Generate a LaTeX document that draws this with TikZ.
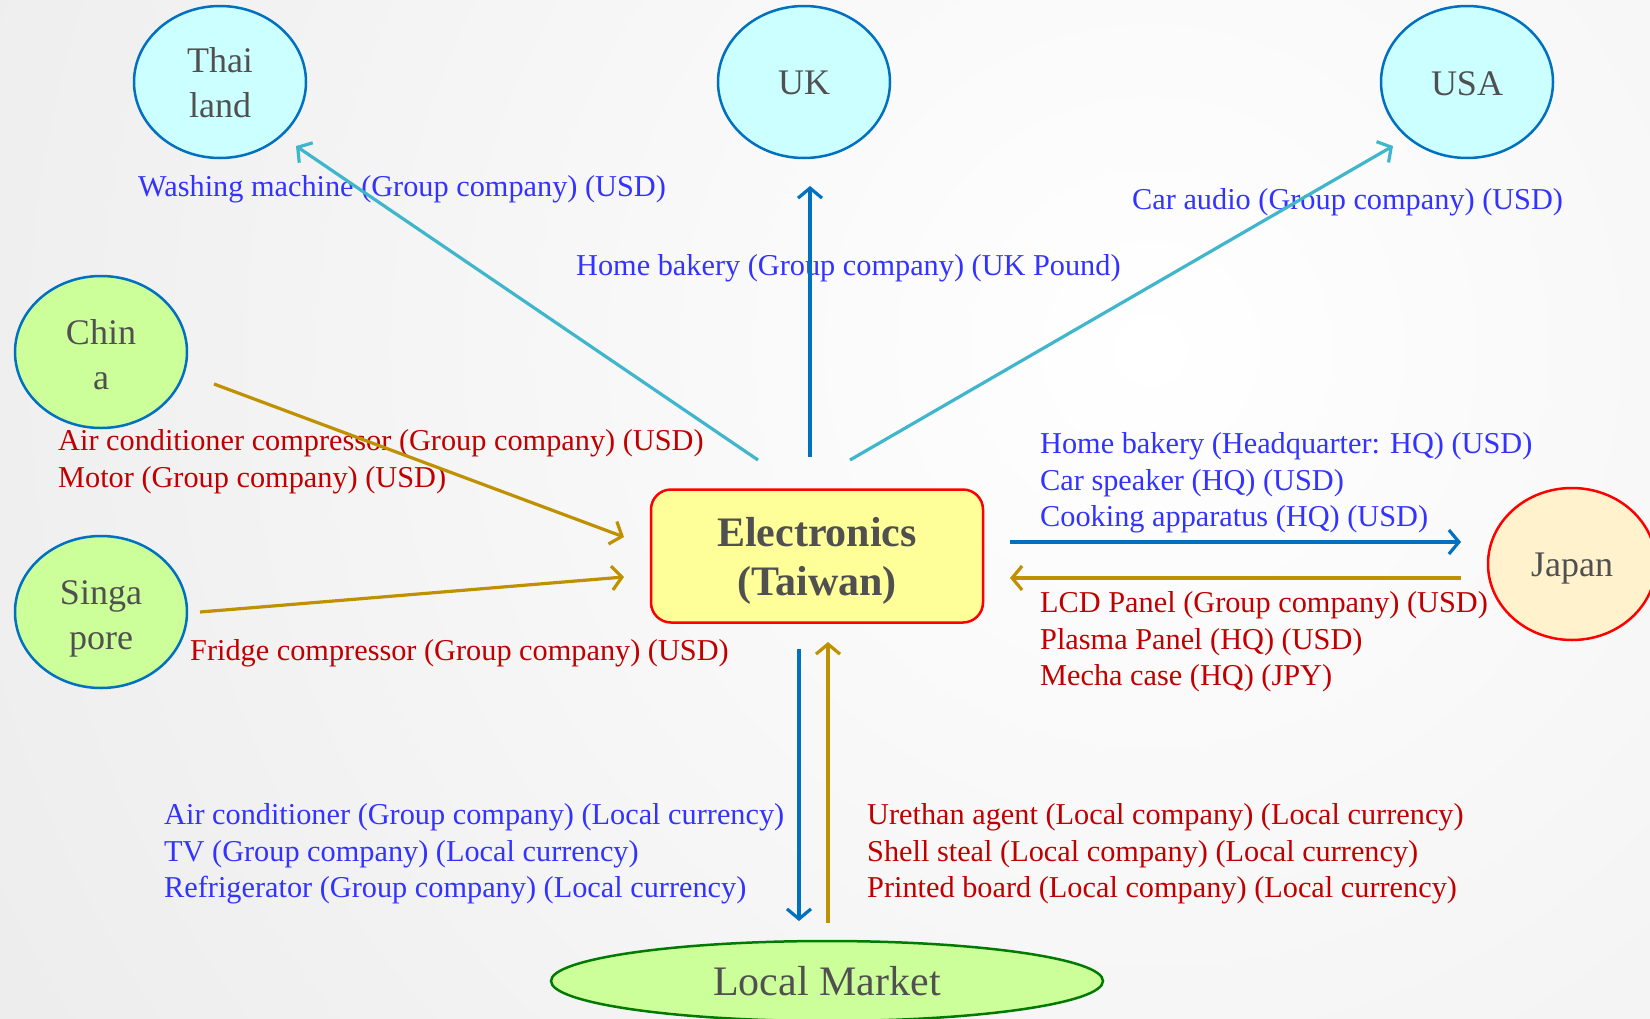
\documentclass[tikz,border=0pt]{standalone}
\usepackage{fontspec}
\setmainfont{Liberation Serif}
\usetikzlibrary{shapes.geometric,arrows.meta}
\definecolor{blueT}{RGB}{51,51,255}
\definecolor{redT}{RGB}{192,0,0}
\definecolor{nodeT}{RGB}{80,80,80}
\definecolor{cyanL}{RGB}{64,182,204}
\definecolor{blueL}{RGB}{0,112,192}
\definecolor{goldL}{RGB}{191,144,0}
\definecolor{cyanF}{RGB}{204,255,255}
\definecolor{greenF}{RGB}{204,255,153}
\definecolor{yellowF}{RGB}{255,255,153}
\definecolor{japanF}{RGB}{255,242,204}
\definecolor{greenB}{RGB}{0,122,0}
\newcommand{\lowerby}[2]{\raisebox{-#1}[\height][\depth]{#2}}
\newcommand{\twolines}[3]{\parbox{#1}{\centering #2\\#3}}
\begin{document}
\begin{tikzpicture}[x=1pt,y=-1pt,
  country/.style={ellipse, draw=blueL, line width=2.5pt, minimum width=172pt, minimum height=152pt,
    inner sep=0pt, align=center, text=nodeT, font=\fontsize{36}{45}\selectfont},
  lblB/.style={anchor=west, align=left, text=blueT, inner sep=0pt, font=\fontsize{30.3}{36.5}\selectfont},
  lblR/.style={anchor=west, align=left, text=redT, inner sep=0pt, font=\fontsize{30.3}{36.5}\selectfont},
  flow/.style={line width=3.2pt, -{Straight Barb[length=10pt,width=24pt]}}
]
\useasboundingbox (0,0) rectangle (1650,1018);
\begin{scope}
  \clip (0,0) rectangle (1650,1018);
  \shade[inner color=white, outer color=black!13] (1150,350) circle (2400pt);
\end{scope}

% nodes
\node[country, fill=cyanF] (thai) at (220,82) {\lowerby{1pt}{\twolines{90pt}{Thai}{land}}};
\node[country, fill=cyanF] (uk) at (804,82) {\lowerby{1pt}{UK}};
\node[country, fill=cyanF] (usa) at (1467,82) {\lowerby{2pt}{USA}};
\node[country, fill=greenF] (china) at (101,352) {\lowerby{3pt}{\twolines{90pt}{Chin}{a}}};
\node[country, fill=greenF] (sing) at (101,612) {\lowerby{7pt}{\twolines{90pt}{Singa}{pore}}};
\node[country, fill=japanF, draw=red, minimum width=168pt] (japan) at (1572,564) {\lowerby{5pt}{Japan}};
\node[rectangle, rounded corners=20pt, draw=red, line width=2.5pt, fill=yellowF,
  minimum width=332pt, minimum height=133pt, inner sep=0pt, align=center, text=nodeT,
  font=\fontsize{42}{49}\selectfont\bfseries] (tw) at (817,556) {\lowerby{5pt}{\twolines{300pt}{Electronics}{(Taiwan)}}};
\node[ellipse, draw=greenB, line width=2.5pt, fill=greenF, minimum width=552pt, minimum height=80pt,
  inner sep=0pt, text=nodeT, font=\fontsize{42}{49}\selectfont] (lm) at (827,981) {Local Market};

% labels
\node[lblB] (lthai) at (138,189) {Washing machine (Group company) (USD)};
\node[lblB] (luk) at (576,268) {Home bakery (Group company) (UK Pound)};
\node[lblB] (lusa) at (1132,202) {Car audio (Group company) (USD)};
\node[lblR] (lchina) at (58,462) {Air conditioner compressor (Group company) (USD)\\Motor (Group company) (USD)};
\node[lblR] (lsing) at (190,653) {Fridge compressor (Group company) (USD)};
\node[lblB] (ljpB) at (1040,483) {Home bakery (Headquarter: HQ) (USD)\\Car speaker (HQ) (USD)\\Cooking apparatus (HQ) (USD)};
\node[lblR] (ljpR) at (1040,642) {LCD Panel (Group company) (USD)\\Plasma Panel (HQ) (USD)\\Mecha case (HQ) (JPY)};
\node[lblB] (llmB) at (164,854) {Air conditioner (Group company) (Local currency)\\TV (Group company) (Local currency)\\Refrigerator (Group company) (Local currency)};
\node[lblR] (llmR) at (867,854) {Urethan agent (Local company) (Local currency)\\Shell steal (Local company) (Local currency)\\Printed board (Local company) (Local currency)};

% connector end points
\coordinate (twThai) at (758,460);
\coordinate (thaiE) at (296,146);
\coordinate (twUK) at (810,457);
\coordinate (ukE) at (810,186);
\coordinate (twUSA) at (850,460);
\coordinate (usaE) at (1393,146);
\coordinate (chinaS) at (214,384);
\coordinate (twChina) at (624,537);
\coordinate (singS) at (200,612);
\coordinate (twSing) at (624,577);
\coordinate (twJpOut) at (1010,542);
\coordinate (jpIn) at (1461,542);
\coordinate (jpOut) at (1461,578);
\coordinate (twJpIn) at (1010,578);
\coordinate (twLmOut) at (799,649);
\coordinate (lmIn) at (799,921);
\coordinate (lmOut) at (828,923);
\coordinate (twLmIn) at (828,642);

% connectors
\draw[flow, cyanL] (twThai) -- (thaiE);
\draw[flow, blueL] (twUK) -- (ukE);
\draw[flow, cyanL] (twUSA) -- (usaE);
\draw[flow, goldL] (chinaS) -- (twChina);
\draw[flow, goldL] (singS) -- (twSing);
\draw[flow, blueL] (twJpOut) -- (jpIn);
\draw[flow, goldL] (jpOut) -- (twJpIn);
\draw[flow, blueL] (twLmOut) -- (lmIn);
\draw[flow, goldL] (lmOut) -- (twLmIn);
\end{tikzpicture}
\end{document}
